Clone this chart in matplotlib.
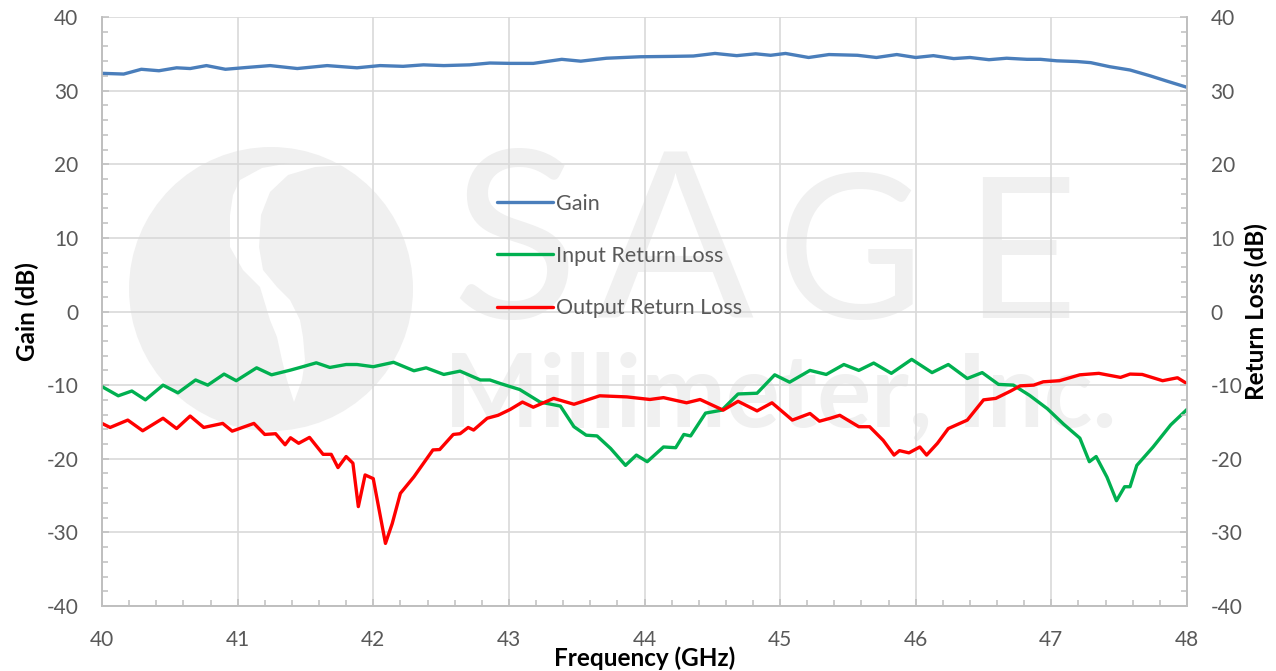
import matplotlib
matplotlib.use("Agg")
import matplotlib.pyplot as plt
from matplotlib.patches import Circle, Polygon
from matplotlib.transforms import Affine2D
from matplotlib.ticker import MultipleLocator

plt.rcParams["axes.unicode_minus"] = False

# ---------------- data ----------------
gain_freq = [40.0, 40.16, 40.29, 40.42, 40.55, 40.65, 40.77, 40.91, 41.07, 41.24, 41.44, 41.66,
             41.88, 42.05, 42.22, 42.37, 42.52, 42.71, 42.86, 43.01, 43.18, 43.39, 43.53, 43.72,
             43.97, 44.2, 44.36, 44.52, 44.68, 44.82, 44.93, 45.04, 45.21, 45.36, 45.57, 45.71,
             45.86, 46.0, 46.13, 46.28, 46.40, 46.54, 46.67, 46.82, 46.92, 47.04, 47.19, 47.29,
             47.43, 47.58, 47.73, 47.85, 48.0]
gain_db = [32.35, 32.25, 32.9, 32.7, 33.1, 33.0, 33.4, 32.9, 33.15, 33.4, 33.0, 33.4,
           33.1, 33.4, 33.3, 33.5, 33.4, 33.5, 33.75, 33.7, 33.7, 34.25, 34.0, 34.4,
           34.6, 34.65, 34.7, 35.05, 34.75, 35.0, 34.8, 35.05, 34.5, 34.9, 34.8, 34.5,
           34.9, 34.5, 34.75, 34.35, 34.5, 34.2, 34.4, 34.25, 34.25, 34.05, 33.95, 33.8,
           33.25, 32.8, 32.0, 31.3, 30.45]

irl_freq = [40.0, 40.12, 40.22, 40.32, 40.45, 40.56, 40.69, 40.78, 40.90, 40.99, 41.14, 41.25,
            41.39, 41.48, 41.58, 41.68, 41.80, 41.88, 42.0, 42.15, 42.30, 42.39, 42.52, 42.64,
            42.79, 42.86, 42.94, 43.08, 43.23, 43.38, 43.48, 43.57, 43.65, 43.75, 43.86, 43.94,
            44.02, 44.14, 44.23, 44.29, 44.34, 44.45, 44.57, 44.69, 44.83, 44.96, 45.07, 45.22,
            45.34, 45.47, 45.58, 45.69, 45.82, 45.97, 46.12, 46.24, 46.38, 46.49, 46.61, 46.72,
            46.84, 46.97, 47.09, 47.21, 47.28, 47.33, 47.41, 47.48, 47.54, 47.58, 47.63, 47.75,
            47.88, 48.0]
irl_db = [-10.2, -11.45, -10.8, -12.0, -10.0, -11.05, -9.3, -10.0, -8.5, -9.4, -7.65, -8.6,
          -7.96, -7.5, -6.97, -7.6, -7.2, -7.2, -7.5, -6.9, -8.05, -7.65, -8.55, -8.1,
          -9.3, -9.3, -9.8, -10.6, -12.3, -12.85, -15.65, -16.8, -16.9, -18.6, -20.9, -19.5,
          -20.4, -18.4, -18.5, -16.7, -16.9, -13.8, -13.4, -11.2, -11.1, -8.6, -9.6, -8.0,
          -8.55, -7.2, -8.0, -7.0, -8.4, -6.5, -8.3, -7.2, -9.1, -8.3, -9.9, -10.0,
          -11.4, -13.2, -15.3, -17.2, -20.4, -19.7, -22.5, -25.7, -23.8, -23.8, -20.9, -18.4,
          -15.4, -13.3]

orl_freq = [40.0, 40.06, 40.19, 40.30, 40.45, 40.55, 40.65, 40.75, 40.89, 40.96, 41.12, 41.20,
            41.28, 41.35, 41.39, 41.45, 41.53, 41.63, 41.69, 41.74, 41.80, 41.85, 41.89, 41.94,
            42.0, 42.09, 42.14, 42.20, 42.30, 42.44, 42.49, 42.59, 42.64, 42.70, 42.74, 42.84,
            42.92, 43.01, 43.10, 43.18, 43.33, 43.48, 43.67, 43.87, 44.04, 44.14, 44.31, 44.41,
            44.58, 44.69, 44.83, 44.94, 45.09, 45.22, 45.29, 45.37, 45.44, 45.58, 45.66, 45.76,
            45.84, 45.88, 45.95, 46.03, 46.08, 46.16, 46.24, 46.38, 46.50, 46.59, 46.70, 46.77,
            46.87, 46.94, 47.06, 47.21, 47.35, 47.51, 47.58, 47.67, 47.82, 47.93, 48.0]
orl_db = [-15.2, -15.75, -14.75, -16.2, -14.5, -15.9, -14.2, -15.75, -15.2, -16.25, -15.2, -16.7,
          -16.6, -18.1, -17.15, -17.9, -17.1, -19.4, -19.4, -21.2, -19.7, -20.6, -26.5, -22.2,
          -22.7, -31.5, -28.8, -24.7, -22.45, -18.8, -18.75, -16.7, -16.6, -15.75, -16.1, -14.5,
          -14.1, -13.3, -12.3, -13.0, -11.8, -12.6, -11.45, -11.6, -11.95, -11.7, -12.4, -11.95,
          -13.4, -12.2, -13.5, -12.4, -14.75, -13.85, -14.9, -14.5, -14.1, -15.65, -15.65, -17.5,
          -19.5, -18.9, -19.2, -18.4, -19.5, -17.9, -15.9, -14.75, -12.0, -11.8, -10.8, -10.1,
          -10.0, -9.55, -9.4, -8.6, -8.4, -8.95, -8.5, -8.55, -9.4, -9.0, -9.8]

series_names = ["Gain", "Input Return Loss", "Output Return Loss"]
x_ticks = [40, 41, 42, 43, 44, 45, 46, 47, 48]
y_ticks = [-40, -30, -20, -10, 0, 10, 20, 30, 40]

# ---------------- figure ----------------
W, H = 1276, 671
fig = plt.figure(figsize=(W / 100, H / 100), dpi=100)
ax = fig.add_axes([102 / W, 1 - 606 / H, 1085 / W, 589 / H])
ax.set_facecolor("none")
ax2 = ax.twinx()

FONT = "Lato"
TICK_C = "#595959"
GRID_C = "#d9d9d9"
SPINE_C = "#bfbfbf"
WM = "#f0f0f0"

# ---- watermark (pixel coords, y downward) ----
px = Affine2D().scale(1 / W, -1 / H).translate(0, 1) + fig.transFigure
wm_z = 0.1
ax.add_artist(Circle((271, 289), 142, transform=px, facecolor=WM, edgecolor="none", zorder=wm_z))
band = [(335, 163), (290, 163), (262, 168), (240, 180), (233, 195), (230, 215), (230, 247),
        (243, 270), (260, 287), (270, 320), (277, 337), (282, 360), (287, 380), (294, 402),
        (302, 380), (305, 360), (303, 337), (300, 320), (290, 300), (277, 287), (263, 270),
        (259, 247), (261, 215), (270, 192), (288, 175), (315, 167), (345, 165)]
ax.add_artist(Polygon(band, closed=True, transform=px, facecolor="white", edgecolor="none",
                      zorder=wm_z + 0.01))

fig.canvas.draw()
renderer = fig.canvas.get_renderer()

def fit_text(s, x_left, x_right, y_base, size0, weight):
    t = ax.text(x_left, y_base, s, transform=px, ha="left", va="baseline", color=WM,
                fontsize=size0, family=FONT, fontweight=weight, zorder=wm_z + 0.02)
    w = t.get_window_extent(renderer).width
    t.set_fontsize(size0 * (x_right - x_left) / w)
    return t

for letter, xl, xr in [("S", 451, 578), ("A", 596, 753), ("G", 776, 923), ("E", 964, 1077)]:
    fit_text(letter, xl, xr, 318, 170, "normal")
fit_text("Millimeter, Inc.", 444, 1116, 426, 65, "bold")

# ---- grid, spines, ticks ----
for a in (ax, ax2):
    a.set_xlim(40, 48)
    a.set_ylim(-40, 40)
    a.spines["top"].set_visible(False)
    for sp in ("left", "right", "bottom"):
        a.spines[sp].set_color(SPINE_C)
        a.spines[sp].set_linewidth(1.2)
    a.yaxis.set_minor_locator(MultipleLocator(2))
    a.tick_params(axis="y", which="both", direction="in", colors=SPINE_C, labelcolor=TICK_C,
                  labelsize=15, pad=17)
    a.tick_params(axis="y", which="minor", length=4, width=1.1)
    a.tick_params(axis="y", which="major", length=5, width=1.1)
    a.set_yticks(y_ticks)

ax.set_xticks(x_ticks)
ax.xaxis.set_minor_locator(MultipleLocator(0.2))
ax.tick_params(axis="x", which="both", direction="in", colors=SPINE_C, labelcolor=TICK_C,
               labelsize=15, pad=17)
ax.tick_params(axis="x", which="minor", length=4, width=1.1)
ax.tick_params(axis="x", which="major", length=5, width=1.1)
ax.set_axisbelow(True)
ax.grid(True, which="major", color=GRID_C, linewidth=1.2, zorder=0.5)
for lbl in ax.get_xticklabels() + ax.get_yticklabels() + ax2.get_yticklabels():
    lbl.set_family(FONT)

# ---- data lines ----
style = dict(lw=2.4, solid_joinstyle="round", solid_capstyle="round", zorder=3)
l1, = ax.plot(gain_freq, gain_db, color="#4a7ebb", label=series_names[0], **style)
l2, = ax.plot(irl_freq, irl_db, color="#00b050", label=series_names[1], **style)
l3, = ax.plot(orl_freq, orl_db, color="#ff0000", label=series_names[2], **style)

leg = ax.legend(handles=[l1, l2, l3], loc="upper left", bbox_to_anchor=(0.364, 0.700),
                frameon=False, borderpad=0, borderaxespad=0, handlelength=2.6,
                handletextpad=0.15, labelspacing=1.5,
                prop={"family": FONT, "size": 15.5})
for t in leg.get_texts():
    t.set_color(TICK_C)
leg.set_zorder(4)

# ---- axis titles ----
title_kw = dict(fontsize=17.5, fontweight="bold", family=FONT, color="black")
ax.set_xlabel("Frequency (GHz)", **title_kw)
ax.xaxis.set_label_coords(0.5, -0.068)
ax.xaxis.label.set_va("top")
ax.set_ylabel("Gain (dB)", **title_kw)
ax.yaxis.set_label_coords((27 - 102) / 1085, 0.5)
ax.yaxis.label.set_va("center")
ax2.set_ylabel("Return Loss (dB)", **title_kw)
ax2.yaxis.set_label_coords((1256 - 102) / 1085, 0.5)
ax2.yaxis.label.set_va("center")

fig.savefig("out.png", dpi=100)
